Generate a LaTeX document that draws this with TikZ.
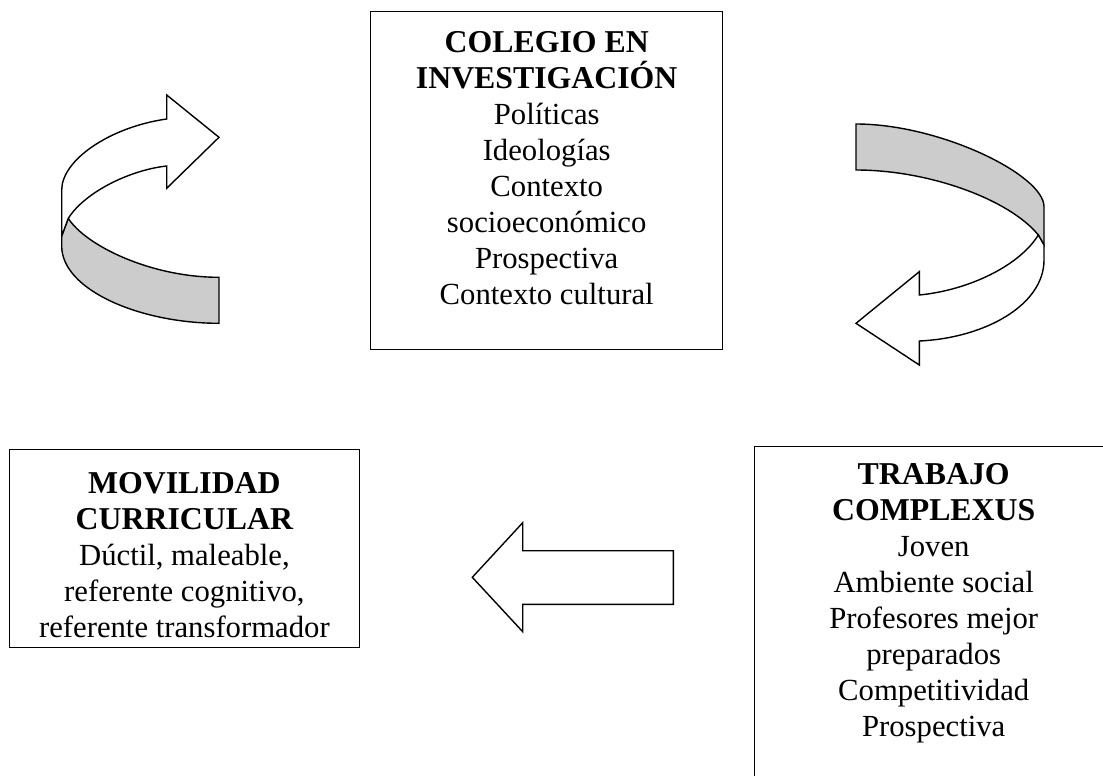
\documentclass[tikz,border=0pt]{standalone}
\usepackage{fontspec}
\setmainfont{Liberation Serif}
\usetikzlibrary{positioning}
\definecolor{bandgray}{gray}{0.8}
\newcommand{\hdline}[1]{{\fontsize{31.8}{36}\selectfont\bfseries #1}}

\begin{document}
\begin{tikzpicture}[x=1pt,y=-1pt,line join=miter,
    box/.style={draw,line width=1.4pt,inner sep=0pt,anchor=north west},
    txt/.style={align=center,inner sep=0pt,font=\fontsize{30.7}{36}\selectfont},
    band/.style={draw,line width=1.4pt,fill=white},
    backband/.style={band,fill=bandgray}]

    \useasboundingbox (0,0) rectangle (1103,776);
    \clip (0,0) rectangle (1103,776);

    \node[box,minimum width=352pt,minimum height=338pt]   (colegio)   at (370,11)  {};
    \node[box,minimum width=350pt,minimum height=198pt]   (movilidad) at (8.7,449) {};
    \node[box,minimum width=358pt,minimum height=340pt]   (trabajo)   at (754,445.7) {};

    \node[txt,below=20.5pt of colegio.north]   (colegiotxt)
        {\hdline{COLEGIO EN}\\\hdline{INVESTIGACIÓN}\\Políticas\\Ideologías\\Contexto\\socioeconómico\\Prospectiva\\Contexto cultural};
    \node[txt,below=23pt of movilidad.north] (movilidadtxt)
        {\hdline{MOVILIDAD}\\\hdline{CURRICULAR}\\Dúctil, maleable,\\referente cognitivo,\\referente transformador};
    \node[txt,below=18pt of trabajo.north]   (trabajotxt)
        {\hdline{TRABAJO}\\\hdline{COMPLEXUS}\\Joven\\Ambiente social\\Profesores mejor\\preparados\\Competitividad\\Prospectiva};

    % curved arrow, left
    \draw[backband] (68.3,218.3) .. controls (85,245) and (150,277.3) .. (219,277.3) -- (219,323.3)
        .. controls (140,323.3) and (61.7,290) .. (61.7,246) -- (61.7,236) -- cycle;
    \draw[band] (166.7,119) -- (166.7,95) -- (219,137.3) -- (166.7,188.3) -- (166.7,166)
        .. controls (130,170) and (85,192) .. (68.3,218.3) -- (61.7,236) -- (61.7,190)
        .. controls (61.7,160) and (110,127) .. (166.7,119) -- cycle;

    % curved arrow, right
    \draw[backband] (856,124) .. controls (940,124) and (1044,175) .. (1044,206.7) -- (1044,245)
        -- (1038.3,235) .. controls (1010,200) and (930,170) .. (856,170) -- cycle;
    \draw[band] (1038.3,235) -- (1044,245) -- (1044,260) .. controls (1044,305) and (985,338) .. (919.3,341)
        -- (919.3,365) -- (856,323.3) -- (919.3,271.7) -- (919.3,295)
        .. controls (970,290) and (1020,265) .. (1038.3,235) -- cycle;

    % straight arrow
    \draw[band] (673.3,550.7) -- (522.7,550.7) -- (522.7,522.7) -- (472.3,577.3)
        -- (522.7,631.7) -- (522.7,604.3) -- (673.3,604.3) -- cycle;

\end{tikzpicture}
\end{document}
